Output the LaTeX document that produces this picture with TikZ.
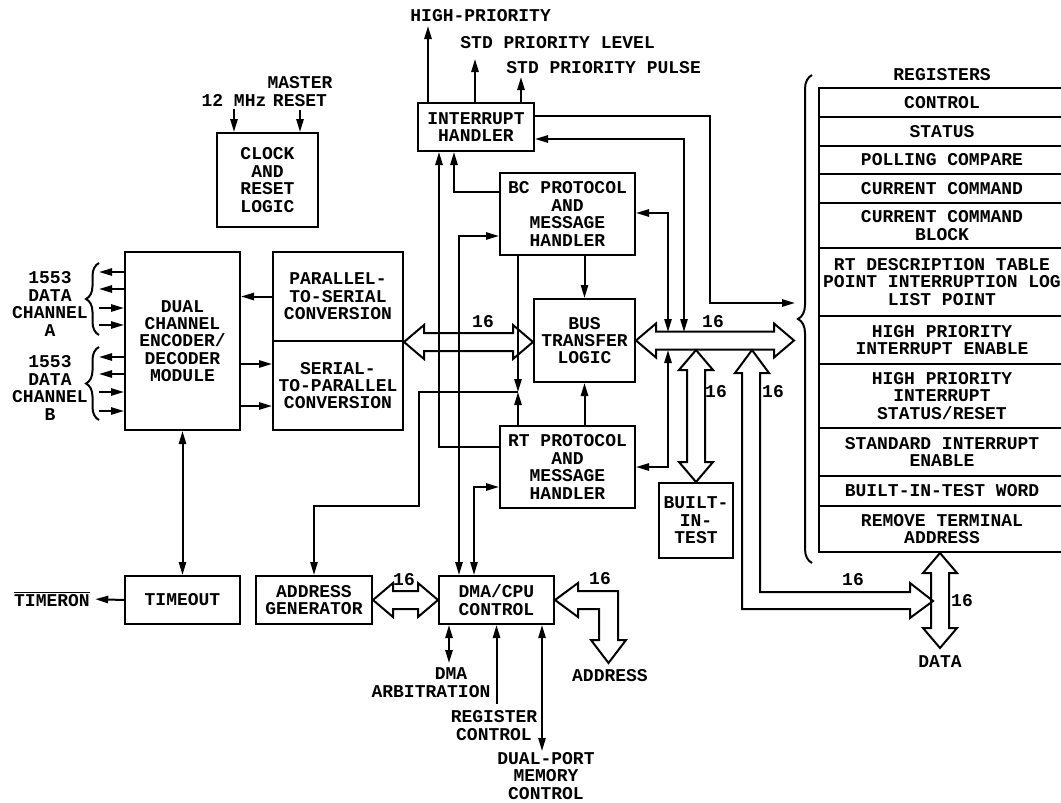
\documentclass[tikz,border=0pt]{standalone}
\usepackage{fontspec}
\setmainfont{Liberation Mono}
\usetikzlibrary{arrows.meta, decorations.pathreplacing, calc}

\tikzset{
  box/.style={draw, line width=1pt, inner sep=0pt, align=center},
  lbl/.style={inner sep=0pt, align=center},
  reg/.style={draw, line width=1pt, inner sep=0pt, align=center, minimum width=123pt},
  wire/.style={line width=1pt},
  bus/.style={line width=1pt, line join=miter},
  brc/.style={line width=1pt, decorate, decoration={brace, amplitude=#1}},
}

% wide 16-bit bus arrows
\newcommand{\hbus}[2]{\draw[bus] let \p1=(#1), \p2=(#2) in
  (\x1,\y1) -- (\x1+10pt,\y1+8.5pt) -- (\x1+10pt,\y1+4.5pt) -- (\x2-10pt,\y1+4.5pt) -- (\x2-10pt,\y1+8.5pt)
  -- (\x2,\y1) -- (\x2-10pt,\y1-8.5pt) -- (\x2-10pt,\y1-4.5pt) -- (\x1+10pt,\y1-4.5pt) -- (\x1+10pt,\y1-8.5pt) -- cycle;}
\newcommand{\vbus}[2]{\draw[bus] let \p1=(#1), \p2=(#2) in
  (\x1,\y1) -- (\x1+8.5pt,\y1-10pt) -- (\x1+4.5pt,\y1-10pt) -- (\x1+4.5pt,\y2+10pt) -- (\x1+8.5pt,\y2+10pt)
  -- (\x1,\y2) -- (\x1-8.5pt,\y2+10pt) -- (\x1-4.5pt,\y2+10pt) -- (\x1-4.5pt,\y1-10pt) -- (\x1-8.5pt,\y1-10pt) -- cycle;}

\begin{document}
\begin{tikzpicture}[x=0.5pt, y=-0.5pt, >={Triangle[length=6.5pt,width=3.6pt]},
  every node/.style={font=\fontsize{9pt}{8.7pt}\selectfont\bfseries}]
\path[use as bounding box, fill=white] (0,0) rectangle (1061,803);

% Blocks
\node[box, minimum width=50.5pt, minimum height=47pt] (clk) at (267.5,180) {CLOCK\\AND\\RESET\\LOGIC};
\node[box, minimum width=57.5pt, minimum height=89pt] (dual) at (182.5,341) {DUAL\\CHANNEL\\ENCODER/\\DECODER\\MODULE};
\node[box, minimum width=65pt, minimum height=44.5pt] (ps) at (338,296.5) {PARALLEL-\\TO-SERIAL\\CONVERSION};
\node[box, minimum width=65pt, minimum height=44.5pt] (sp) at (338,385.5) {SERIAL-\\TO-PARALLEL\\CONVERSION};
\node[box, minimum width=58pt, minimum height=24pt] (ih) at (476,127) {INTERRUPT\\HANDLER};
\node[box, minimum width=67.5pt, minimum height=41pt] (bc) at (567.5,214) {BC PROTOCOL\\AND\\MESSAGE\\HANDLER};
\node[box, minimum width=50.5pt, minimum height=41.5pt] (btl) at (584.5,340.5) {BUS\\TRANSFER\\LOGIC};
\node[box, minimum width=67.5pt, minimum height=41pt] (rt) at (567.5,467) {RT PROTOCOL\\AND\\MESSAGE\\HANDLER};
\node[box, minimum width=37pt, minimum height=37.5pt] (bit) at (696,520.5) {BUILT-\\IN-\\TEST};
\node[box, minimum width=57.5pt, minimum height=24pt] (tmo) at (182.5,600) {TIMEOUT};
\node[box, minimum width=58pt, minimum height=24pt] (adg) at (314,600) {ADDRESS\\GENERATOR};
\node[box, minimum width=57.5pt, minimum height=24pt] (dma) at (496.5,600) {DMA/CPU\\CONTROL};

% Registers
\node[lbl] (regt) at (942,75) {REGISTERS};
\node[reg, minimum height=14.5pt] (r1) at (942,102.5) {CONTROL};
\node[reg, minimum height=14.5pt] (r2) at (942,131.5) {STATUS};
\node[reg, minimum height=14pt] (r3) at (942,160) {POLLING COMPARE};
\node[reg, minimum height=14.5pt] (r4) at (942,188.5) {CURRENT COMMAND};
\node[reg, minimum height=22.5pt] (r5) at (942,225.5) {CURRENT COMMAND\\BLOCK};
\node[reg, minimum height=34pt] (r6) at (942,282) {RT DESCRIPTION TABLE\\POINT INTERRUPTION LOG\\LIST POINT};
\node[reg, minimum height=24pt] (r7) at (942,340) {HIGH PRIORITY\\INTERRUPT ENABLE};
\node[reg, minimum height=32pt] (r8) at (942,396) {HIGH PRIORITY\\INTERRUPT\\STATUS/RESET};
\node[reg, minimum height=24pt] (r9) at (942,452) {STANDARD INTERRUPT\\ENABLE};
\node[reg, minimum height=15pt] (r10) at (942,491) {BUILT-IN-TEST WORD};
\node[reg, minimum height=23pt] (r11) at (942,529) {REMOVE TERMINAL\\ADDRESS};
\draw[brc=7pt] (812,563) -- (812,75);

% Outside labels
\node[lbl] (mhz) at (234,100) {12 MHz};
\node[lbl] (mrst) at (300,91.5) {MASTER\\RESET};
\node[lbl] (cha) at (50,304) {1553\\DATA\\CHANNEL\\A};
\node[lbl] (chb) at (50,388) {1553\\DATA\\CHANNEL\\B};
\node[lbl, anchor=west] (hp) at (410,16) {HIGH-PRIORITY};
\node[lbl, anchor=west] (spl) at (460,43) {STD PRIORITY LEVEL};
\node[lbl, anchor=west] (spp) at (506,68) {STD PRIORITY PULSE};
\node[lbl] (tmr) at (52,599) {$\overline{\hbox{\bfseries TIMERON}}$};
\node[lbl] (arb) at (431,682.5) {\hspace*{20pt}DMA\\ARBITRATION};
\node[lbl] (rgc) at (494,725.5) {REGISTER\\CONTROL};
\node[lbl] (dpm) at (546,776) {DUAL-PORT\\MEMORY\\CONTROL};
\node[lbl] (adr) at (610,676) {ADDRESS};
\node[lbl] (dat) at (940,662) {DATA};

% Bus widths
\node[lbl] (n16a) at (483,322) {16};
\node[lbl] (n16b) at (713,322) {16};
\node[lbl] (n16c) at (716,392) {16};
\node[lbl] (n16d) at (773,392) {16};
\node[lbl] (n16e) at (853,580) {16};
\node[lbl] (n16f) at (962,601) {16};
\node[lbl] (n16g) at (404,580) {16};
\node[lbl] (n16h) at (600,579) {16};

\coordinate (regin) at (794,341);
\coordinate (regtip) at (795,303);
\coordinate (datend) at (940,648);
\coordinate (jn) at (518,392);

% 16-bit buses
\hbus{ps.south east}{btl.west}
\hbus{btl.east}{regin}
\vbus{bit.north |- 0,350}{bit.north}
\hbus{adg.east}{dma.west}
\vbus{r11.south -| datend}{datend}
\draw[bus] (752,350) -- (769,373) -- (760,373) -- (760,592) -- (910,592) -- (910,583) -- (933,601)
  -- (910,618) -- (910,609) -- (742,609) -- (742,373) -- (735,373) -- cycle;
\draw[bus] (dma.east) -- (578,583) -- (578,591) -- (618,591) -- (618,640) -- (626,640) -- (608.5,663)
  -- (591,640) -- (599,640) -- (599,609) -- (578,609) -- (578,617) -- cycle;

% Clock inputs
\draw[wire,->] ([yshift=-1.5pt]mhz.south) -- (mhz.south |- clk.north);
\draw[wire,->] ([yshift=-1.5pt]mrst.south) -- (mrst.south |- clk.north);

% 1553 channels
\foreach \y in {272,289,357,374} \draw[wire,->] (dual.west |- 0,\y) -- ++(-25,0);
\foreach \y in {308,325,392,411} \draw[wire,<-] (dual.west |- 0,\y) -- ++(-25,0);
\draw[brc=6.5pt] (99,335) -- (99,263);
\draw[brc=6.5pt] (99,420) -- (99,347);

% Encoder/decoder links
\draw[wire,->] (ps.west) -- (ps.west -| dual.east);
\draw[wire,->] (dual.east |- 0,364) -- (sp.west |- 0,364);
\draw[wire,->] (dual.east |- 0,406) -- (sp.west |- 0,406);
\draw[wire,<->] (dual.south) -- (tmo.north);
\draw[wire,->, shorten >=2.5pt] (tmo.west) -- (tmr.east);

% Interrupt handler
\draw[wire,->] (ih.north -| 428,0) -- ++(0,-76);
\draw[wire,->] (ih.north -| 475,0) -- ++(0,-43);
\draw[wire,->] (ih.north -| 521,0) -- ++(0,-25);
\draw[wire,->] (ih.east |- 0,116) -| (710,303) -- (regtip);
\draw[wire,<->] (ih.east |- 0,139) -| (684,332);
\draw[wire,->] (bc.west |- 0,192) -| (ih.south -| 454,0);
\draw[wire,->] (rt.west |- 0,447) -| (ih.south -| 439,0);

% Protocol handlers
\draw[wire,->] (bc.south -| btl.north) -- (btl.north);
\draw[wire,->] (rt.north -| btl.south) -- (btl.south);
\draw[wire,<->] (bc.east |- 0,213) -| (668,332);
\draw[wire,<->] (rt.east) -| (668,350);
\draw[wire,<->] (bc.west |- 0,236) -| (dma.north -| 459,0);
\draw[wire,<->] (rt.west |- 0,487) -| (dma.north -| 474,0);
\draw[wire,->] (bc.south -| jn) -- (jn);
\draw[wire,->] (rt.north -| jn) -- (jn);
\draw[wire,->] (jn) -- (419,392) -- (419,506) -| (adg.north);

% DMA/CPU control
\draw[wire,<->] (dma.south -| 449,0) -- ++(0,38);
\draw[wire,<-] (dma.south) -- ++(0,79);
\draw[wire,<->] (dma.south -| 542,0) -- ++(0,126);
\end{tikzpicture}
\end{document}
